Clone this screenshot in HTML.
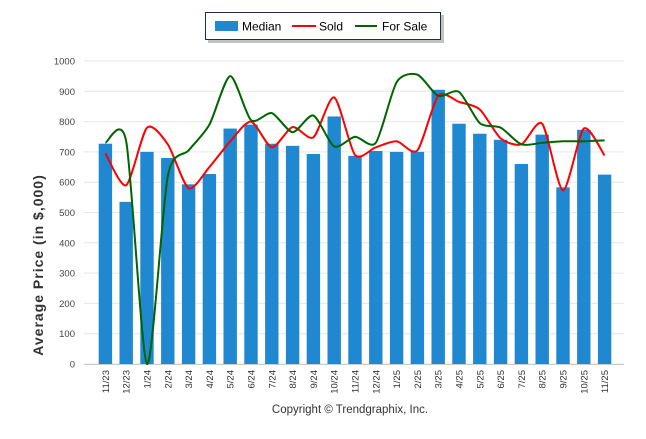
<!DOCTYPE html>
<html><head><meta charset="utf-8"><style>
html,body{margin:0;padding:0;background:#fff;}
svg text{font-family:"Liberation Sans",sans-serif;}
</style></head><body>
<svg id="s" width="646" height="434" xmlns="http://www.w3.org/2000/svg">
<rect x="208" y="15" width="236" height="28" fill="#999" opacity="0.6"/>
<rect x="205.5" y="12.5" width="235" height="27" fill="#fff" stroke="#1f2d4d" stroke-width="1"/>
<rect x="215" y="21" width="23" height="10" fill="#1f88d0"/>
<text x="242" y="30.5" font-size="12" fill="#000">Median</text>
<line x1="292" y1="26" x2="316" y2="26" stroke="#f00" stroke-width="2"/>
<text x="319" y="30.5" font-size="12" fill="#000">Sold</text>
<line x1="355" y1="26" x2="377" y2="26" stroke="#006400" stroke-width="2"/>
<text x="382" y="30.5" font-size="12" fill="#000">For Sale</text>
<g id="g"></g>
<text transform="translate(43,265) rotate(-90)" text-anchor="middle" font-size="14" font-weight="bold" fill="#333" letter-spacing="1">Average Price (in $,000)</text>
<text x="350" y="413" text-anchor="middle" font-size="11.5" fill="#333">Copyright © Trendgraphix, Inc.</text>
</svg>
<script>
var ns="http://www.w3.org/2000/svg",g=document.getElementById("g");
function el(t,a,txt){var e=document.createElementNS(ns,t);for(var k in a)e.setAttribute(k,a[k]);if(txt!=null)e.textContent=txt;g.appendChild(e);return e;}
var y0=364,y1=61,X0=105.4,dx=20.8;
function Y(v){return y0-(y0-y1)*v/1000;}
for(var i=0;i<=10;i++){var y=Y(i*100);el("line",{x1:84,x2:624,y1:y,y2:y,stroke:"#e6e6e6","stroke-width":1});el("text",{x:75,y:y+3.5,"text-anchor":"end","font-size":"9.5",fill:"#444"},i*100);}
el("line",{x1:84,x2:624,y1:364.5,y2:364.5,stroke:"#ccc"});
var lab=["11/23","12/23","1/24","2/24","3/24","4/24","5/24","6/24","7/24","8/24","9/24","10/24","11/24","12/24","1/25","2/25","3/25","4/25","5/25","6/25","7/25","8/25","9/25","10/25","11/25"];
var med=[727,535,700,680,593,627,777,790,727,720,693,817,687,703,700,700,905,793,760,740,660,757,583,773,625];
var sold=[695,590,780,725,580,650,735,800,715,782,748,880,690,715,735,705,885,865,840,745,725,793,573,777,688];
var fs=[730,735,0,620,705,790,950,805,828,765,820,718,750,730,930,955,885,898,795,780,725,730,735,735,738];
for(var i=0;i<25;i++){var x=X0+i*dx;el("rect",{x:x-6.7,y:Y(med[i]),width:13.4,height:y0-Y(med[i]),fill:"#1f88d0"});
el("text",{transform:"translate("+(x+3.5)+",370) rotate(-90)","text-anchor":"end","font-size":"9.5",fill:"#333"},lab[i]);}
var T=1/8;
function path(d,c){var p=d.map(function(v,i){return [X0+i*dx,Y(v)]});var s="M"+p[0][0]+","+p[0][1];
for(var i=0;i<p.length-1;i++){var a=p[Math.max(i-1,0)],b=p[i],c2=p[i+1],e=p[Math.min(i+2,p.length-1)];
s+=" C"+(b[0]+(c2[0]-a[0])*T)+","+(b[1]+(c2[1]-a[1])*T)+" "+(c2[0]-(e[0]-b[0])*T)+","+(c2[1]-(e[1]-b[1])*T)+" "+c2[0]+","+c2[1];}
el("path",{d:s,fill:"none",stroke:c,"stroke-width":2});}
path(sold,"#f00");path(fs,"#006400");
</script>
</body></html>
